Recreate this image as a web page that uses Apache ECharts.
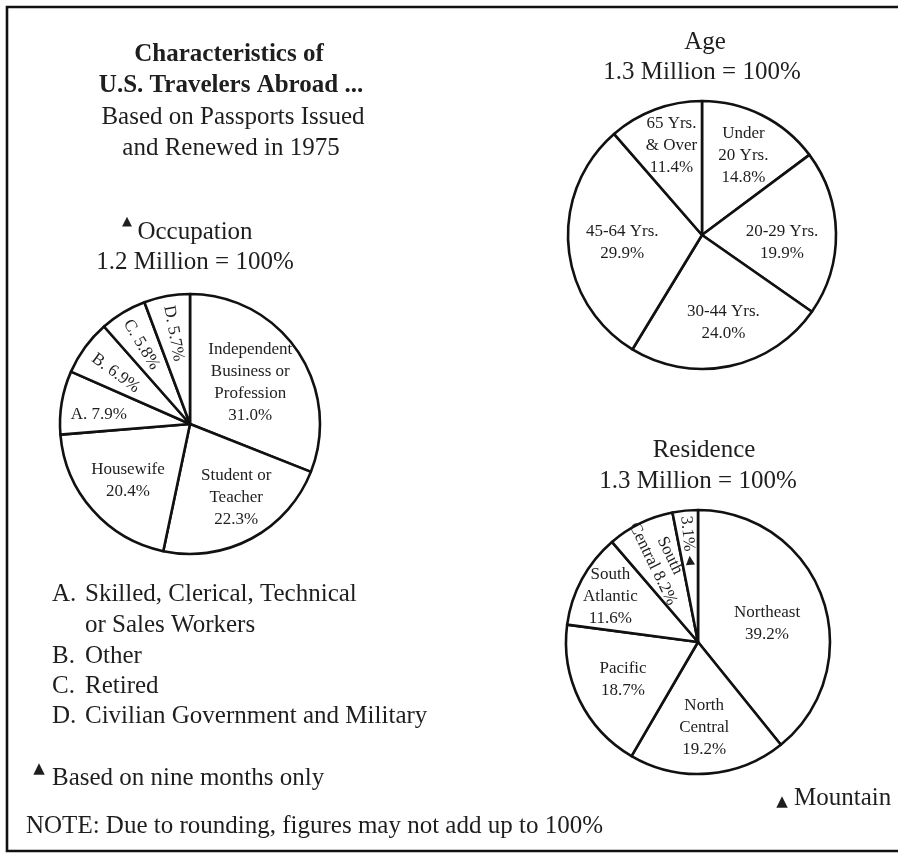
<!DOCTYPE html>
<html>
<head>
<meta charset="utf-8">
<script src="https://cdn.jsdelivr.net/npm/echarts@6/dist/echarts.min.js"></script>
<style>
  html, body { margin: 0; background: #fff; }
  #chart { width: 898px; height: 854px; }
</style>
</head>
<body>
<div id="chart"></div>
<script>
// values, each pie goes clockwise from 12 o'clock
var occupationValues = [31.0, 22.3, 20.4, 7.9, 6.9, 5.8, 5.7];
var occupationLabels = ['Independent\nBusiness or\nProfession\n31.0%', 'Student or\nTeacher\n22.3%',
  'Housewife\n20.4%', 'A. 7.9%', 'B. 6.9%', 'C. 5.8%', 'D. 5.7%'];

var ageValues = [14.8, 19.9, 24.0, 29.9, 11.4];
var ageLabels = ['Under\n20 Yrs.\n14.8%', '20-29 Yrs.\n19.9%', '30-44 Yrs.\n24.0%',
  '45-64 Yrs.\n29.9%', '65 Yrs.\n& Over\n11.4%'];

var residenceValues = [39.2, 19.2, 18.7, 11.6, 8.2, 3.1];
// the Mountain marker is a left triangle so that it stands upright once the label is turned
var residenceLabels = ['Northeast\n39.2%', 'North\nCentral\n19.2%', 'Pacific\n18.7%',
  'South\nAtlantic\n11.6%', 'South\nCentral 8.2%', '3.1% {tri|\u25C0}'];

var legendKeys = ['A.', '', 'B.', 'C.', 'D.'];
var legendTexts = ['Skilled, Clerical, Technical', 'or Sales Workers', 'Other', 'Retired',
  'Civilian Government and Military'];

// label nudges (px) from the default half-radius spot; for turned labels x runs along the radius
var occupationNudge = [[4, -3], [14, 14], [-11, 12], [-24, 2], [-22, 3], [-25, 1], [-24, 0]];
var ageNudge = [[10, -17], [10, 9], [7, 19], [-10, 2], [-6, -24]];
var residenceNudge = [[4, 4], [1, 17], [-13, 7], [-27, -13], [-21, -3], [-33, 0]];
var occupationRadial = [4, 5, 6];
var residenceRadial = [4, 5];

var SERIF = '"Liberation Serif", "Times New Roman", serif';
var INK = '#1e1e1e';

function pieSeries(center, radius, values, labels, nudge, radial) {
  return {
    type: 'pie',
    center: center,
    radius: radius,
    startAngle: 90,
    clockwise: true,
    silent: true,
    avoidLabelOverlap: false,
    emphasis: { disabled: true },
    itemStyle: { color: '#fff', borderColor: '#111', borderWidth: 2.6 },
    label: {
      position: 'inside',
      color: INK,
      fontFamily: SERIF,
      fontSize: 17,
      lineHeight: 22,
      formatter: function (p) { return labels[p.dataIndex]; },
      rich: {
        tri: { fontFamily: '"DejaVu Sans"', fontSize: 12, color: INK }
      }
    },
    labelLine: { show: false },
    labelLayout: function (p) {
      return { dx: nudge[p.dataIndex][0], dy: nudge[p.dataIndex][1] };
    },
    data: values.map(function (v, i) {
      var item = { value: v, name: labels[i] };
      if (radial.indexOf(i) >= 0) item.label = { rotate: 'radial', lineHeight: 19 };
      return item;
    })
  };
}

function txt(x, y, text, size, opts) {
  opts = opts || {};
  return {
    type: 'text', x: x, y: y, silent: true,
    style: {
      text: text,
      font: (opts.bold ? 'bold ' : '') + size + 'px ' + (opts.sans ? '"DejaVu Sans"' : SERIF),
      fill: INK,
      align: opts.align || 'center',
      verticalAlign: 'middle'
    }
  };
}

var graphics = [
  { type: 'rect', silent: true, shape: { x: 7, y: 7, width: 900, height: 844 },
    style: { fill: 'none', stroke: '#111', lineWidth: 2.6 } },
  txt(229, 55, 'Characteristics of', 25, { bold: true }),
  txt(231, 86, 'U.S. Travelers Abroad ...', 25, { bold: true }),
  txt(233, 117, 'Based on Passports Issued', 25),
  txt(231, 148, 'and Renewed in 1975', 25),
  txt(127, 222, '\u25B2', 13, { sans: true }),
  txt(195, 232, 'Occupation', 25),
  txt(195, 262, '1.2 Million = 100%', 25),
  txt(705, 42, 'Age', 25),
  txt(702, 72, '1.3 Million = 100%', 25),
  txt(704, 450, 'Residence', 25),
  txt(698, 481, '1.3 Million = 100%', 25),
  txt(39, 769, '\u25B2', 15, { sans: true }),
  txt(52, 778, 'Based on nine months only', 25, { align: 'left' }),
  txt(782, 802, '\u25B2', 15, { sans: true }),
  txt(794, 798, 'Mountain', 25, { align: 'left' }),
  txt(26, 826, 'NOTE: Due to rounding, figures may not add up to 100%', 25, { align: 'left' })
];

var legendY = [594, 625, 656, 686, 716];
legendTexts.forEach(function (t, i) {
  if (legendKeys[i]) graphics.push(txt(52, legendY[i], legendKeys[i], 25, { align: 'left' }));
  graphics.push(txt(85, legendY[i], t, 25, { align: 'left' }));
});

var myChart = echarts.init(document.getElementById('chart'), null, { renderer: 'canvas' });
var option = {
  animation: false,
  backgroundColor: '#fff',
  graphic: graphics,
  series: [
    pieSeries([190, 424], 130, occupationValues, occupationLabels, occupationNudge, occupationRadial),
    pieSeries([702, 235], 134, ageValues, ageLabels, ageNudge, []),
    pieSeries([698, 642], 132, residenceValues, residenceLabels, residenceNudge, residenceRadial)
  ]
};
myChart.setOption(option);
window.addEventListener('resize', myChart.resize);
</script>
</body>
</html>
